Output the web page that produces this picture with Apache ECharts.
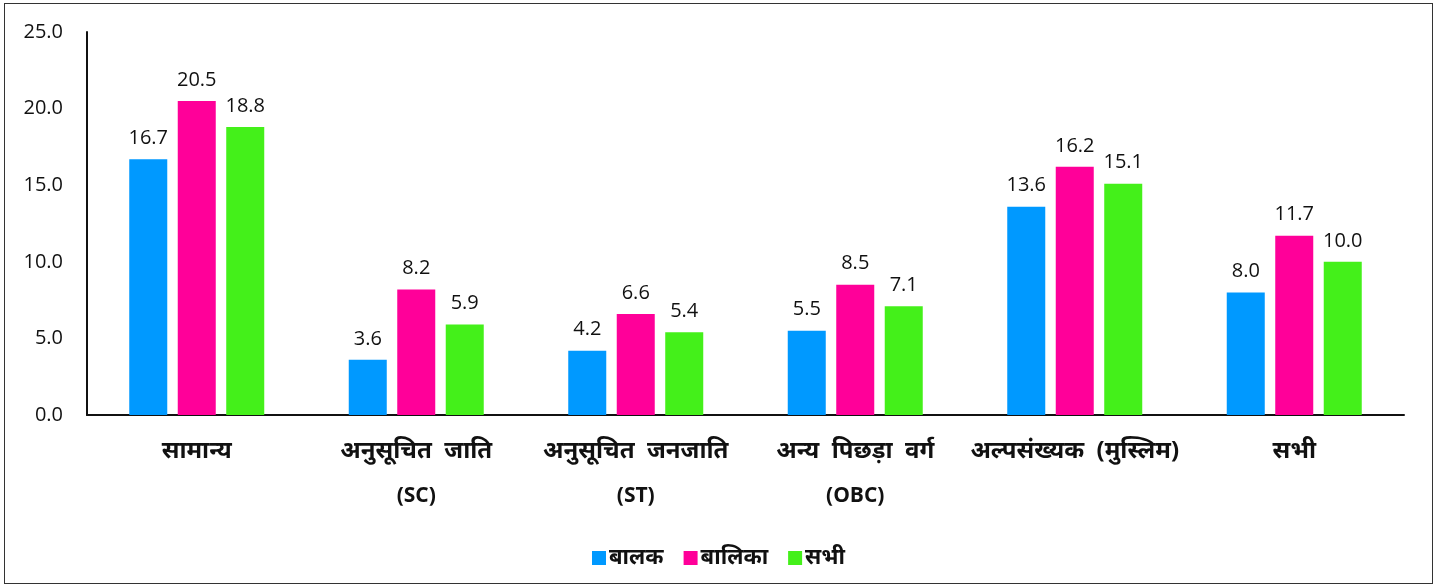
<!DOCTYPE html>
<html><head><meta charset="utf-8">
<script src="https://cdn.jsdelivr.net/npm/echarts@6/dist/echarts.min.js"></script>
<style>
html,body{margin:0;padding:0;background:#fff;}
#frame{position:absolute;left:4px;top:3px;width:1429px;height:581px;border:1.5px solid #333;box-sizing:border-box;}
#c{position:absolute;left:0;top:0;width:1437px;height:588px;}
</style></head>
<body><div id="frame"></div><div id="c"></div>
<script>
const categories = ['सामान्य', 'अनुसूचित  जाति\n(SC)', 'अनुसूचित  जनजाति\n(ST)', 'अन्य  पिछड़ा  वर्ग\n(OBC)', 'अल्पसंख्यक  (मुस्लिम)', 'सभी'];
const seriesNames = ['बालक', 'बालिका', 'सभी'];
const boys = [16.7, 3.6, 4.2, 5.5, 13.6, 8.0];
const girls = [20.5, 8.2, 6.6, 8.5, 16.2, 11.7];
const all = [18.8, 5.9, 5.4, 7.1, 15.1, 10.0];
const colors = ['#0099FF', '#FF0099', '#44F01A'];
const font = "'Open Sans', 'Noto Sans', 'Noto Sans Devanagari', sans-serif";

const chart = echarts.init(document.getElementById('c'), null, {renderer:'canvas'});
const mk = (name, data, i) => ({
  name, type:'bar', data, barGap:'27.6%', barCategoryGap:'38.5%',
  itemStyle:{color:colors[i]},
  label:{show:true, position:'top', distance:11, formatter:p=>p.value.toFixed(1), color:'#111', fontSize:20, fontFamily:font}
});
chart.setOption({
  animation:false,
  textStyle:{fontFamily:font},
  grid:{left:87, right:33, top:32, bottom:173, containLabel:false},
  legend:{bottom:14, left:'center', itemWidth:14, itemHeight:14, itemGap:20, icon:'rect',
    textStyle:{fontSize:22, fontWeight:'bold', color:'#111', fontFamily:font, padding:[6,0,0,-2]}},
  xAxis:{type:'category', data:categories,
    axisLine:{lineStyle:{color:'#111', width:2}}, axisTick:{show:false},
    axisLabel:{interval:0, margin:15,
      formatter:v=>{const p=v.split('\n'); return '{d|'+p[0]+'}'+(p[1]?'\n{l|'+p[1]+'}':'');},
      rich:{
        d:{fontSize:24, fontWeight:'bold', color:'#111', lineHeight:43, fontFamily:font},
        l:{fontSize:21, fontWeight:'bold', color:'#111', lineHeight:46, fontFamily:font}
      }}},
  yAxis:{type:'value', min:0, max:25, interval:5,
    axisLine:{show:true, lineStyle:{color:'#111', width:2}}, axisTick:{show:false}, splitLine:{show:false},
    axisLabel:{fontSize:20, color:'#111', margin:24, formatter:v=>v.toFixed(1), fontFamily:font}},
  series:[mk(seriesNames[0], boys, 0), mk(seriesNames[1], girls, 1), mk(seriesNames[2], all, 2)]
});
</script></body></html>
